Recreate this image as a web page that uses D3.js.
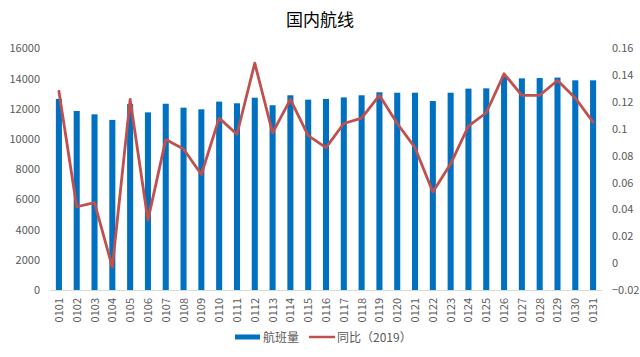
<!DOCTYPE html>
<html><head><meta charset="utf-8">
<script src="https://cdn.jsdelivr.net/npm/d3@7"></script>
<style>body{margin:0;background:#fff}svg{display:block}</style>
</head><body>
<svg id="c" width="640" height="357"></svg>
<script>
const categories = ["0101","0102","0103","0104","0105","0106","0107","0108","0109","0110","0111","0112","0113","0114","0115","0116","0117","0118","0119","0120","0121","0122","0123","0124","0125","0126","0127","0128","0129","0130","0131"];
const flights = [12650,11850,11630,11260,12310,11760,12330,12070,11960,12470,12360,12730,12230,12890,12600,12650,12750,12890,13090,13060,13060,12510,13060,13330,13350,14120,14010,14030,14060,13880,13880];
const yoy = [0.128,0.042,0.045,-0.003,0.122,0.032,0.092,0.085,0.066,0.108,0.096,0.149,0.097,0.122,0.095,0.086,0.104,0.108,0.125,0.104,0.086,0.053,0.074,0.102,0.112,0.141,0.125,0.125,0.136,0.123,0.105];
const leftTicks = [0,2000,4000,6000,8000,10000,12000,14000,16000];
const rightTicks = [-0.02,0,0.02,0.04,0.06,0.08,0.1,0.12,0.14,0.16];
const title = "国内航线";
const seriesNames = ["航班量","同比（2019）"];

const svg = d3.select("#c");
const font = "'Noto Sans CJK SC','Microsoft YaHei',sans-serif";
const L = 50, R = 602, T = 48.3, B = 290;
const x = d3.scaleBand().domain(categories).range([L, R]).paddingInner(0.66).paddingOuter(0.33);
const yL = d3.scaleLinear().domain([0,16000]).range([B, T]);
const yR = d3.scaleLinear().domain([-0.02,0.16]).range([B, T]);

svg.append("text").attr("x",320).attr("y",26).attr("text-anchor","middle")
  .attr("font-family",font).attr("font-size",17).attr("fill","#000").text(title);

svg.selectAll("rect.bar").data(flights).join("rect").attr("class","bar")
  .attr("x",(d,i)=>x(categories[i])).attr("width",x.bandwidth())
  .attr("y",d=>yL(d)).attr("height",d=>B-yL(d)).attr("fill","#0070C0");

svg.append("line").attr("x1",L).attr("x2",R).attr("y1",B+0.5).attr("y2",B+0.5).attr("stroke","#d9d9d9");

const line = d3.line().x((d,i)=>x(categories[i])+x.bandwidth()/2).y(d=>yR(d));
svg.append("path").datum(yoy).attr("d",line).attr("fill","none").attr("stroke","#C0504D")
  .attr("stroke-width",2.8).attr("stroke-linejoin","round").attr("stroke-linecap","round");

const ax = svg.append("g");
ax.selectAll("text.l").data(leftTicks).join("text").attr("class","l")
  .attr("x",40).attr("y",d=>yL(d)+4).attr("text-anchor","end")
  .attr("font-family",font).attr("font-size",11).attr("fill","#595959").text(d=>d);
ax.selectAll("text.r").data(rightTicks).join("text").attr("class","r")
  .attr("x",612).attr("y",d=>yR(d)+4).attr("text-anchor","start")
  .attr("font-family",font).attr("font-size",11).attr("fill","#595959").text(d=>d3.format("")(+d.toFixed(2)));
ax.selectAll("text.x").data(categories).join("text").attr("class","x")
  .attr("transform",d=>`translate(${x(d)+x.bandwidth()/2+4},298) rotate(-90)`)
  .attr("text-anchor","end").attr("font-family",font).attr("font-size",11).attr("fill","#595959").text(d=>d);

const lg = svg.append("g");
lg.append("rect").attr("x",235).attr("y",334.5).attr("width",25).attr("height",5).attr("fill","#0070C0");
lg.append("text").attr("x",263).attr("y",341.5).attr("font-family",font).attr("font-size",12).attr("fill","#595959").text(seriesNames[0]);
lg.append("line").attr("x1",309).attr("x2",335).attr("y1",337).attr("y2",337).attr("stroke","#C0504D").attr("stroke-width",2.5);
lg.append("text").attr("x",337).attr("y",341.5).attr("font-family",font).attr("font-size",12).attr("fill","#595959").text(seriesNames[1]);
</script>
</body></html>
